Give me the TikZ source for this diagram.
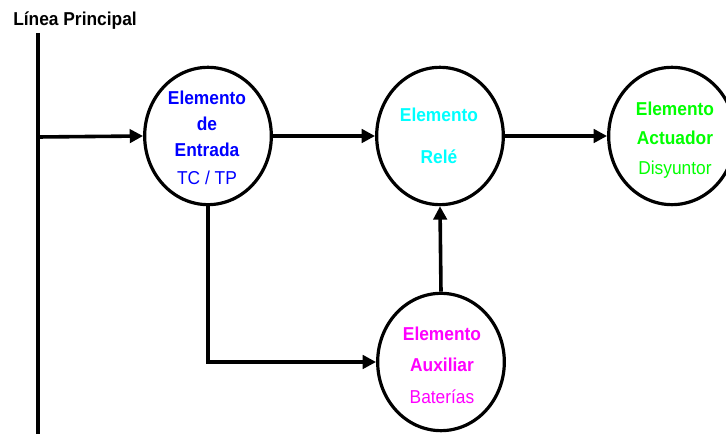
\documentclass[tikz,border=0pt]{standalone}
\usepackage{fontspec}
\usepackage{graphicx}
\setmainfont{Liberation Sans}
\usetikzlibrary{shapes.geometric,arrows.meta}

\definecolor{cEnt}{RGB}{0,0,255}
\definecolor{cRel}{RGB}{0,255,255}
\definecolor{cAct}{RGB}{0,255,0}
\definecolor{cAux}{RGB}{255,0,255}

% slightly condensed lettering
\newcommand\cond[1]{\scalebox{0.93}[1]{#1}}

\tikzset{
  elem/.style={draw=black, line width=2.4pt, ellipse, minimum width=95pt, minimum height=103pt, inner sep=0pt},
  wire/.style={draw=black, line width=2.7pt, -{Triangle[length=10pt,width=10pt]}},
  bus/.style={draw=black, line width=3.7pt},
  txt/.style={font=\fontsize{14pt}{16pt}\selectfont, inner sep=0pt, anchor=center},
  txtb/.style={txt, font=\fontsize{14pt}{16pt}\selectfont\bfseries},
}

\begin{document}
\begin{tikzpicture}[x=0.75pt, y=-0.75pt]
\useasboundingbox (0,0) rectangle (726,434);

% main bus and its label
\coordinate (busTop) at (38,33);
\coordinate (busBot) at (38,436);
\coordinate (tap) at (38,137);
\draw[bus] (busTop) -- (busBot);
\node[anchor=base west, inner sep=0pt, font=\fontsize{14pt}{16pt}\selectfont\bfseries] (lbl) at (13,26) {\cond{Línea Principal}};

% elements
\node[elem] (ent) at (208,136) {};
\node[elem] (rele) at (440,136) {};
\node[elem] (act) at (672,136) {};
\node[elem] (aux) at (441,362) {};

% element texts
\node[txtb, text=cEnt] (entA) at (207,98) {\cond{Elemento}};
\node[txtb, text=cEnt] (entB) at (207,124) {\cond{de}};
\node[txtb, text=cEnt] (entC) at (207,150) {\cond{Entrada}};
\node[txt, text=cEnt] (entD) at (207,178) {\cond{TC / TP}};

\node[txtb, text=cRel] (relA) at (439,115) {\cond{Elemento}};
\node[txtb, text=cRel] (relB) at (439,157) {\cond{Relé}};

\node[txtb, text=cAct] (actA) at (675,109) {\cond{Elemento}};
\node[txtb, text=cAct] (actB) at (675,138) {\cond{Actuador}};
\node[txt, text=cAct] (actC) at (675,170) {\cond{Disyuntor}};

\node[txtb, text=cAux] (auxA) at (442,334) {\cond{Elemento}};
\node[txtb, text=cAux] (auxB) at (442,365) {\cond{Auxiliar}};
\node[txt, text=cAux] (auxC) at (442,397) {\cond{Baterías}};

% connectors
\draw[wire] (tap) -- (ent.west);
\draw[wire] (ent.east) -- (rele.west);
\draw[wire] (rele.east) -- (act.west);
\draw[wire] (ent.south) |- (aux.west);
\draw[wire] (aux.north) -- (rele.south);
\end{tikzpicture}
\end{document}
